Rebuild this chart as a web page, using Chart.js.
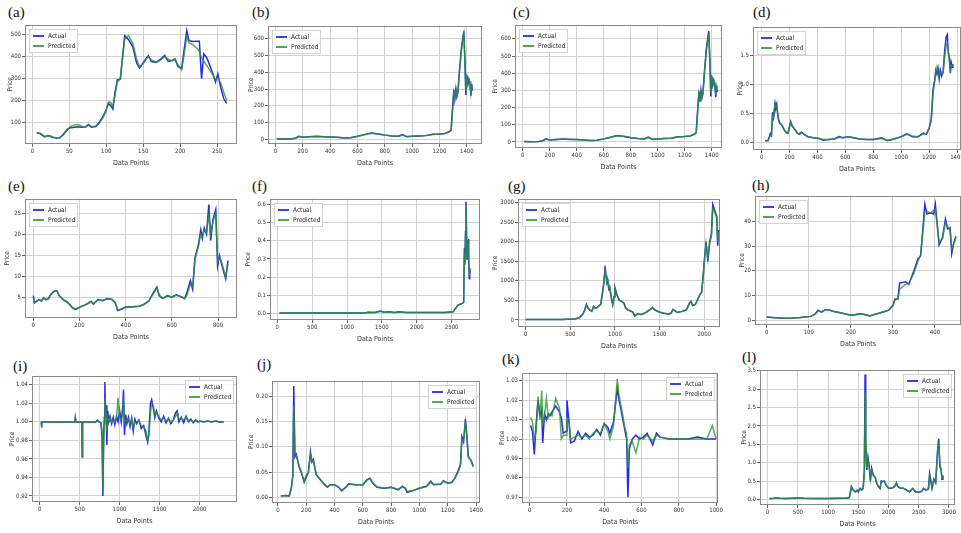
<!DOCTYPE html>
<html>
<head>
<meta charset="utf-8">
<script src="https://cdn.jsdelivr.net/npm/chart.js@4.4.1/dist/chart.umd.min.js"></script>
<style>
  body { margin: 0; background: #fff; width: 961px; height: 533px; overflow: hidden; position: relative; }
  canvas { position: absolute; }
  .lbl { position: absolute; font-family: 'Liberation Serif', serif; font-size: 15px; color: #111; line-height: 1; }
</style>
</head>
<body>
<script>
// ---- data (x = data point index, y = price) ----
const xA = [6, 10, 14, 17, 21, 25, 28, 33, 37, 42, 47, 52, 57, 62, 67, 72, 76, 80, 86, 90, 95, 100, 103, 106, 109, 112, 115, 119, 125, 130, 136, 141, 145, 150, 154, 157, 161, 168, 174, 179, 184, 189, 193, 197, 202, 205, 209, 212, 217, 222, 226, 229, 232, 236, 240, 244, 248, 251, 255, 259, 263];
const actualA = [55, 52, 42, 36, 42, 38, 33, 31, 32, 48, 70, 78, 80, 82, 80, 82, 92, 80, 84, 100, 125, 160, 187, 178, 162, 240, 295, 298, 495, 478, 444, 372, 348, 372, 392, 404, 378, 374, 390, 405, 378, 382, 390, 355, 346, 420, 518, 472, 468, 470, 470, 300, 412, 395, 362, 325, 285, 322, 260, 210, 188];
const predA = [52, 54, 45, 38, 40, 40, 35, 31, 32, 45, 68, 85, 90, 92, 85, 80, 88, 85, 82, 96, 120, 155, 195, 192, 175, 225, 285, 298, 480, 495, 460, 390, 355, 368, 388, 400, 385, 375, 385, 400, 388, 380, 388, 365, 340, 400, 490, 462, 455, 440, 425, 395, 380, 360, 340, 320, 295, 305, 280, 240, 200];

const xB = [10, 60, 120, 150, 170, 200, 250, 300, 350, 400, 450, 500, 550, 600, 650, 700, 750, 800, 850, 900, 930, 960, 1000, 1050, 1100, 1150, 1200, 1240, 1270, 1285, 1295, 1305, 1312, 1320, 1327, 1335, 1345, 1360, 1370, 1378, 1386, 1393, 1400, 1408, 1415, 1422, 1430, 1436, 1441];
const actualB = [3, 2, 3, 8, 18, 12, 15, 18, 15, 14, 12, 8, 10, 18, 28, 38, 32, 25, 20, 18, 28, 15, 18, 20, 22, 30, 32, 35, 45, 55, 180, 295, 240, 300, 255, 285, 400, 540, 600, 645, 470, 265, 385, 330, 360, 340, 260, 330, 290];
const predB = [3, 2, 3, 7, 16, 13, 15, 17, 16, 14, 12, 9, 10, 17, 27, 36, 33, 26, 21, 18, 26, 17, 18, 20, 22, 29, 32, 35, 44, 52, 160, 280, 250, 290, 262, 280, 390, 530, 590, 630, 480, 285, 370, 340, 355, 345, 275, 320, 295];

const xC = [10, 60, 120, 150, 170, 200, 250, 300, 350, 400, 450, 500, 550, 600, 650, 700, 750, 800, 850, 900, 930, 960, 1000, 1050, 1100, 1150, 1200, 1240, 1270, 1285, 1295, 1305, 1312, 1320, 1327, 1335, 1345, 1360, 1370, 1378, 1386, 1393, 1400, 1408, 1415, 1422, 1430, 1436, 1441];
const actualC = [3, 2, 3, 8, 18, 12, 15, 18, 15, 14, 12, 8, 10, 18, 28, 38, 32, 25, 20, 18, 28, 15, 18, 20, 22, 30, 32, 35, 45, 55, 180, 295, 235, 300, 255, 285, 400, 540, 600, 645, 470, 265, 385, 330, 360, 340, 260, 330, 290];
const predC = [3, 2, 3, 7, 16, 13, 15, 17, 16, 14, 12, 9, 10, 17, 27, 36, 33, 26, 21, 18, 26, 17, 18, 20, 22, 29, 32, 35, 44, 52, 160, 280, 250, 290, 262, 280, 390, 530, 590, 630, 480, 285, 370, 340, 355, 345, 275, 320, 295];

const xD = [25, 45, 55, 62, 70, 78, 84, 90, 96, 102, 108, 114, 120, 130, 145, 160, 175, 188, 200, 208, 216, 225, 240, 255, 270, 285, 300, 330, 370, 410, 440, 480, 520, 555, 580, 620, 660, 700, 750, 800, 860, 900, 950, 1000, 1040, 1080, 1120, 1160, 1180, 1200, 1215, 1228, 1238, 1248, 1256, 1264, 1272, 1280, 1290, 1300, 1312, 1322, 1330, 1337, 1345, 1352, 1358, 1365, 1370];
const actualD = [0.03, 0.03, 0.10, 0.15, 0.12, 0.52, 0.38, 0.55, 0.68, 0.60, 0.66, 0.50, 0.40, 0.33, 0.30, 0.22, 0.17, 0.16, 0.28, 0.36, 0.30, 0.26, 0.22, 0.16, 0.14, 0.18, 0.15, 0.10, 0.08, 0.07, 0.04, 0.05, 0.06, 0.10, 0.08, 0.10, 0.08, 0.06, 0.05, 0.05, 0.08, 0.03, 0.06, 0.10, 0.15, 0.10, 0.10, 0.16, 0.14, 0.25, 0.40, 0.92, 1.05, 1.25, 1.18, 1.28, 1.10, 1.25, 1.15, 1.22, 1.60, 1.82, 1.86, 1.55, 1.45, 1.20, 1.38, 1.30, 1.35];
const predD = [0.03, 0.03, 0.08, 0.14, 0.13, 0.45, 0.42, 0.52, 0.65, 0.62, 0.64, 0.52, 0.42, 0.34, 0.30, 0.23, 0.18, 0.16, 0.26, 0.34, 0.31, 0.27, 0.22, 0.17, 0.15, 0.17, 0.15, 0.10, 0.08, 0.07, 0.05, 0.05, 0.06, 0.09, 0.08, 0.10, 0.08, 0.06, 0.05, 0.05, 0.07, 0.04, 0.06, 0.10, 0.14, 0.11, 0.10, 0.15, 0.15, 0.24, 0.38, 0.85, 1.02, 1.20, 1.30, 1.22, 1.15, 1.20, 1.18, 1.20, 1.50, 1.68, 1.72, 1.60, 1.40, 1.25, 1.32, 1.32, 1.33];

const xE = [0, 5, 15, 25, 35, 45, 55, 65, 75, 85, 95, 102, 112, 130, 150, 170, 182, 200, 220, 240, 250, 260, 280, 300, 320, 340, 355, 365, 380, 400, 430, 460, 480, 500, 520, 535, 545, 560, 580, 600, 620, 640, 655, 665, 680, 690, 700, 715, 725, 732, 740, 750, 760, 768, 778, 790, 798, 806, 815, 825, 833, 843];
const actualE = [5.5, 3.8, 4.2, 4.6, 4.2, 5.0, 4.5, 4.8, 5.8, 6.3, 6.7, 6.6, 5.5, 4.5, 3.8, 2.6, 2.2, 2.8, 3.2, 3.8, 4.2, 3.5, 4.6, 4.3, 4.8, 4.6, 3.8, 2.0, 2.3, 2.8, 2.9, 3.0, 3.5, 4.3, 6.2, 7.5, 5.5, 4.8, 5.5, 5.2, 5.7, 5.2, 4.8, 6.2, 9.0, 7.0, 14.5, 17.5, 21.0, 19.0, 21.5, 20.0, 27.0, 18.5, 23.5, 25.8, 12.5, 15.0, 13.0, 11.0, 9.5, 13.8];
const predE = [5.2, 4.0, 4.1, 4.5, 4.3, 4.9, 4.6, 4.7, 5.6, 6.2, 6.6, 6.6, 5.6, 4.6, 3.9, 2.7, 2.3, 2.7, 3.2, 3.7, 4.1, 3.6, 4.5, 4.4, 4.7, 4.6, 3.9, 2.2, 2.3, 2.7, 2.9, 3.0, 3.4, 4.2, 6.0, 7.3, 5.7, 4.9, 5.4, 5.2, 5.6, 5.3, 4.9, 5.5, 8.2, 7.5, 14.0, 17.2, 20.0, 19.5, 21.0, 20.5, 24.5, 20.0, 23.0, 25.0, 13.5, 14.5, 13.5, 11.5, 10.0, 13.0];

const xF = [30, 300, 600, 900, 1250, 1300, 1400, 1480, 1530, 1600, 1680, 1750, 1850, 2000, 2200, 2400, 2520, 2560, 2590, 2620, 2650, 2672, 2682, 2690, 2698, 2705, 2712, 2720, 2727, 2734, 2740, 2746, 2752, 2758, 2765];
const actualF = [0.002, 0.002, 0.002, 0.002, 0.002, 0.006, 0.004, 0.012, 0.006, 0.008, 0.004, 0.008, 0.004, 0.004, 0.005, 0.005, 0.008, 0.03, 0.045, 0.05, 0.055, 0.06, 0.36, 0.27, 0.45, 0.615, 0.45, 0.30, 0.40, 0.32, 0.41, 0.30, 0.19, 0.25, 0.22];
const predF = [0.002, 0.002, 0.002, 0.002, 0.002, 0.005, 0.004, 0.011, 0.006, 0.007, 0.004, 0.007, 0.004, 0.004, 0.005, 0.005, 0.008, 0.028, 0.044, 0.05, 0.055, 0.06, 0.33, 0.28, 0.43, 0.60, 0.46, 0.31, 0.39, 0.33, 0.40, 0.31, 0.21, 0.24, 0.23];

const xG = [0, 200, 400, 550, 600, 640, 660, 680, 700, 720, 740, 760, 780, 800, 840, 860, 875, 890, 900, 910, 920, 930, 940, 960, 975, 990, 1000, 1020, 1050, 1080, 1100, 1120, 1150, 1200, 1220, 1250, 1300, 1350, 1400, 1420, 1450, 1500, 1550, 1600, 1630, 1650, 1680, 1700, 1750, 1800, 1830, 1850, 1870, 1900, 1930, 1950, 1970, 1990, 2000, 2020, 2040, 2060, 2080, 2095, 2110, 2140, 2150, 2160];
const actualG = [10, 15, 15, 25, 60, 150, 250, 400, 300, 250, 220, 350, 300, 320, 400, 700, 950, 1380, 1100, 950, 1000, 800, 850, 550, 390, 600, 820, 650, 500, 470, 430, 300, 250, 200, 100, 150, 140, 200, 280, 320, 250, 200, 170, 150, 180, 270, 220, 190, 220, 260, 420, 480, 370, 400, 550, 650, 700, 1200, 1500, 2000, 1500, 2000, 2200, 2950, 2850, 2650, 1900, 2300];
const predG = [10, 15, 15, 25, 58, 145, 245, 380, 310, 255, 225, 340, 305, 318, 395, 680, 930, 1300, 1150, 960, 990, 820, 840, 570, 400, 580, 800, 660, 510, 470, 435, 310, 255, 205, 110, 150, 142, 198, 275, 315, 255, 205, 172, 152, 178, 262, 225, 192, 218, 258, 400, 470, 380, 398, 540, 640, 700, 1150, 1450, 1950, 1550, 1950, 2150, 2850, 2800, 2600, 2000, 2250];

const xH = [0, 20, 40, 60, 80, 95, 105, 115, 122, 130, 140, 150, 160, 180, 200, 210, 220, 230, 245, 260, 280, 290, 300, 305, 312, 316, 330, 338, 350, 360, 366, 376, 381, 390, 397, 401, 410, 418, 425, 430, 436, 440, 445, 450];
const actualH = [1.2, 0.9, 0.7, 0.8, 1.0, 1.3, 1.5, 2.5, 4.0, 3.2, 4.3, 4.0, 3.5, 2.8, 2.0, 2.2, 2.6, 2.4, 1.7, 2.5, 3.5, 4.0, 6.0, 8.5, 8.5, 15.0, 15.5, 14.5, 20.0, 25.0, 26.0, 47.0, 43.0, 43.5, 43.0, 47.0, 30.5, 33.5, 41.0, 37.0, 37.5, 27.0, 31.5, 34.0];
const predH = [1.1, 0.9, 0.7, 0.8, 1.0, 1.3, 1.5, 2.4, 3.8, 3.3, 4.2, 4.0, 3.5, 2.8, 2.0, 2.2, 2.5, 2.4, 1.8, 2.4, 3.4, 4.0, 5.8, 8.0, 8.6, 12.5, 14.5, 15.0, 19.0, 24.0, 26.5, 44.0, 44.0, 43.5, 44.5, 45.0, 31.5, 33.0, 39.5, 38.0, 36.5, 29.0, 31.0, 33.5];

const xI = [20, 24, 28, 200, 440, 445, 450, 528, 532, 536, 700, 725, 740, 765, 780, 790, 800, 808, 815, 822, 830, 840, 850, 865, 880, 900, 920, 940, 960, 980, 1000, 1020, 1040, 1048, 1060, 1075, 1090, 1110, 1130, 1150, 1170, 1190, 1210, 1240, 1270, 1300, 1330, 1350, 1365, 1385, 1400, 1420, 1440, 1460, 1490, 1520, 1550, 1580, 1610, 1640, 1670, 1700, 1720, 1740, 1770, 1800, 1830, 1860, 1890, 1920, 1950, 1980, 2010, 2050, 2100, 2150, 2200, 2250, 2300];
const actualI = [1.0, 0.994, 1.0, 1.0, 1.0, 1.004, 1.0, 1.0, 0.962, 1.0, 1.0, 1.002, 1.0, 0.999, 0.985, 0.92, 0.985, 1.005, 1.043, 1.01, 1.018, 0.975, 1.012, 1.0, 1.006, 0.998, 1.005, 0.997, 1.006, 1.0, 1.012, 1.0, 1.018, 1.035, 0.986, 1.008, 0.998, 1.005, 0.995, 1.004, 0.99, 1.003, 0.998, 1.002, 0.993, 0.996, 0.985, 0.978, 0.988, 1.02, 1.024, 1.015, 1.005, 1.012, 1.004, 1.0, 1.006, 0.999, 1.004, 0.998, 1.002, 1.01, 1.012, 1.0, 1.005, 0.999, 1.006, 1.0, 1.003, 0.999, 1.002, 1.0, 1.001, 1.0, 1.001, 1.0, 1.001, 1.0, 1.0];
const predI = [1.0, 0.995, 1.0, 1.0, 1.0, 1.003, 1.0, 1.0, 0.963, 1.0, 1.0, 1.001, 1.0, 0.999, 0.99, 0.925, 0.975, 0.998, 1.025, 1.02, 1.01, 0.99, 1.005, 1.002, 1.004, 1.0, 1.002, 1.0, 1.003, 1.026, 1.005, 1.003, 1.01, 1.025, 1.0, 1.002, 1.0, 1.003, 0.998, 1.002, 0.994, 1.0, 1.0, 1.001, 0.996, 0.995, 0.99, 0.98, 0.985, 1.01, 1.02, 1.018, 1.008, 1.01, 1.006, 1.002, 1.004, 1.001, 1.003, 1.0, 1.002, 1.006, 1.01, 1.003, 1.004, 1.002, 1.005, 1.001, 1.002, 1.0, 1.002, 1.0, 1.001, 1.0, 1.001, 1.0, 1.001, 1.0, 1.0];

const xJ = [20, 50, 80, 95, 105, 112, 120, 130, 150, 170, 185, 200, 215, 230, 240, 250, 270, 300, 330, 350, 370, 400, 430, 450, 480, 500, 550, 600, 630, 650, 670, 700, 750, 800, 850, 880, 900, 912, 950, 1000, 1050, 1080, 1100, 1150, 1170, 1200, 1230, 1250, 1270, 1290, 1300, 1312, 1325, 1335, 1345, 1360, 1370, 1380];
const actualJ = [0.003, 0.004, 0.003, 0.02, 0.045, 0.22, 0.08, 0.085, 0.06, 0.045, 0.03, 0.04, 0.05, 0.09, 0.07, 0.075, 0.045, 0.035, 0.025, 0.02, 0.025, 0.025, 0.02, 0.013, 0.02, 0.027, 0.025, 0.025, 0.035, 0.038, 0.028, 0.02, 0.018, 0.02, 0.015, 0.022, 0.018, 0.01, 0.013, 0.018, 0.022, 0.032, 0.025, 0.026, 0.033, 0.028, 0.03, 0.038, 0.05, 0.065, 0.12, 0.11, 0.155, 0.12, 0.08, 0.075, 0.07, 0.062];
const predJ = [0.003, 0.004, 0.003, 0.018, 0.04, 0.18, 0.09, 0.082, 0.062, 0.047, 0.032, 0.045, 0.048, 0.085, 0.072, 0.073, 0.046, 0.035, 0.026, 0.021, 0.025, 0.025, 0.02, 0.014, 0.02, 0.026, 0.025, 0.025, 0.034, 0.037, 0.029, 0.021, 0.018, 0.02, 0.016, 0.021, 0.018, 0.012, 0.013, 0.018, 0.022, 0.03, 0.026, 0.026, 0.032, 0.028, 0.03, 0.037, 0.048, 0.063, 0.115, 0.112, 0.15, 0.125, 0.082, 0.075, 0.068, 0.06];

const xK = [5, 15, 25, 35, 45, 55, 65, 70, 80, 90, 100, 110, 120, 140, 160, 170, 180, 195, 200, 210, 220, 240, 260, 280, 300, 320, 340, 360, 380, 400, 420, 430, 450, 470, 480, 500, 510, 520, 527, 535, 550, 570, 590, 610, 630, 650, 660, 680, 700, 750, 800, 850, 900, 950, 980, 1000];
const actualK = [1.007, 1.004, 0.992, 1.008, 1.02, 1.012, 1.015, 0.998, 1.013, 1.01, 1.013, 1.012, 1.014, 1.017, 1.014, 1.011, 1.003, 1.004, 1.02, 1.01, 0.998, 0.999, 1.004, 1.0, 1.003, 1.001, 1.002, 1.005, 1.002, 1.008, 1.006, 1.003, 1.009, 1.026, 1.02, 1.01, 1.005, 1.0, 0.97, 0.995, 1.0, 1.002, 1.0, 1.001, 1.003, 0.999, 0.997, 1.003, 1.001, 1.0, 1.0, 1.0, 1.001, 1.0, 1.0, 1.0];
const predK = [1.011, 1.009, 1.0, 1.004, 1.022, 1.01, 1.025, 1.008, 1.012, 1.021, 1.011, 1.013, 1.012, 1.021, 1.016, 1.0, 1.002, 1.002, 1.011, 1.011, 1.0, 1.001, 1.002, 1.001, 1.002, 1.0, 1.003, 1.004, 1.003, 1.008, 1.004, 1.0, 1.007, 1.031, 1.022, 1.012, 1.006, 1.003, 0.985, 0.997, 0.999, 0.993, 1.001, 1.0, 1.002, 1.0, 0.999, 1.002, 1.001, 1.0, 1.0, 1.0, 1.0, 1.0, 1.007, 1.0];

const xL = [30, 100, 150, 200, 300, 400, 500, 600, 800, 1000, 1200, 1300, 1350, 1370, 1385, 1400, 1420, 1450, 1480, 1500, 1530, 1555, 1580, 1600, 1612, 1622, 1640, 1660, 1680, 1700, 1720, 1750, 1780, 1800, 1830, 1860, 1880, 1900, 1930, 1960, 2000, 2050, 2100, 2130, 2150, 2200, 2250, 2300, 2350, 2400, 2450, 2500, 2550, 2580, 2620, 2660, 2680, 2700, 2720, 2750, 2780, 2810, 2830, 2850, 2870, 2885, 2900];
const actualL = [0.02, 0.03, 0.04, 0.03, 0.02, 0.03, 0.04, 0.03, 0.02, 0.02, 0.03, 0.03, 0.05, 0.2, 0.35, 0.3, 0.25, 0.2, 0.25, 0.2, 0.3, 0.25, 0.3, 0.8, 3.4, 1.5, 0.8, 1.15, 0.9, 0.5, 0.85, 0.65, 0.6, 0.45, 0.35, 0.3, 0.5, 0.48, 0.5, 0.38, 0.3, 0.3, 0.35, 0.45, 0.35, 0.3, 0.3, 0.25, 0.2, 0.3, 0.2, 0.2, 0.22, 0.3, 0.25, 0.28, 0.7, 0.5, 0.3, 0.55, 0.45, 1.3, 1.65, 0.9, 0.8, 0.55, 0.65];
const predL = [0.02, 0.03, 0.04, 0.03, 0.02, 0.03, 0.04, 0.03, 0.02, 0.02, 0.03, 0.03, 0.05, 0.18, 0.33, 0.3, 0.25, 0.21, 0.24, 0.21, 0.28, 0.26, 0.3, 0.7, 2.9, 1.7, 0.85, 1.1, 0.92, 0.55, 0.8, 0.66, 0.6, 0.47, 0.36, 0.3, 0.48, 0.48, 0.5, 0.39, 0.31, 0.3, 0.34, 0.44, 0.36, 0.3, 0.3, 0.26, 0.21, 0.29, 0.21, 0.2, 0.22, 0.29, 0.26, 0.28, 0.65, 0.52, 0.32, 0.52, 0.46, 1.2, 1.55, 0.95, 0.8, 0.58, 0.64];

// tick labels
const ticks200 = [0, 200, 400, 600, 800, 1000, 1200, 1400];
const ticks500 = [0, 500, 1000, 1500, 2000, 2500];
const xTicksA = [0, 50, 100, 150, 200, 250];
const yTicksA = [100, 200, 300, 400, 500];
const yTicksB = [0, 100, 200, 300, 400, 500, 600];
const yTicksD = [0, 0.5, 1.0, 1.5];
const xTicksE = [0, 200, 400, 600, 800];
const yTicksE = [5, 10, 15, 20, 25];
const yTicksF = [0, 0.1, 0.2, 0.3, 0.4, 0.5, 0.6];
const xTicksG = [0, 500, 1000, 1500, 2000];
const yTicksG = [0, 500, 1000, 1500, 2000, 2500, 3000];
const xTicksH = [0, 100, 200, 300, 400];
const yTicksH = [0, 10, 20, 30, 40];
const yTicksI = [0.92, 0.94, 0.96, 0.98, 1.00, 1.02, 1.04];
const yTicksJ = [0, 0.05, 0.10, 0.15, 0.20];
const xTicksK = [0, 200, 400, 600, 800, 1000];
const yTicksK = [0.97, 0.98, 0.99, 1.00, 1.01, 1.02, 1.03];
const xTicksL = [0, 500, 1000, 1500, 2000, 2500, 3000];
const yTicksL = [0, 0.5, 1.0, 1.5, 2.0, 2.5, 3.0, 3.5];

const BLUE = 'rgb(40,40,240)';
const GREEN = 'rgba(45,150,45,0.8)';
const FONT = "'DejaVu Sans Condensed', 'Liberation Sans Narrow', 'DejaVu Sans', sans-serif";

// panel placement: plot box in page pixels, axis ranges, y axis width, label spot
const panels = [
  { name: '(a)', x: xA, a: actualA, p: predA, xt: xTicksA, yt: yTicksA, L: 25, T: 24, R: 237, B: 144, x0: -10, x1: 277, y0: 4, y1: 545, yw: 19, dec: 0, leg: 'left', lx: 8, ly: 5 },
  { name: '(b)', x: xB, a: actualB, p: predB, xt: ticks200, yt: yTicksB, L: 268, T: 25, R: 482, B: 144, x0: -54, x1: 1511, y0: -28, y1: 679, yw: 21, dec: 0, leg: 'left', lx: 252, ly: 5 },
  { name: '(c)', x: xC, a: actualC, p: predC, xt: ticks200, yt: yTicksB, L: 515, T: 24, R: 722, B: 148, x0: -57, x1: 1476, y0: -35, y1: 683, yw: 24, dec: 0, leg: 'left', lx: 513, ly: 5 },
  { name: '(d)', x: xD, a: actualD, p: predD, xt: ticks200, yt: yTicksD, L: 753, T: 26, R: 961, B: 150, x0: -62, x1: 1428, y0: -0.13, y1: 2.0, yw: 17, dec: 1, leg: 'left', lx: 753, ly: 5 },
  { name: '(e)', x: xE, a: actualE, p: predE, xt: xTicksE, yt: yTicksE, L: 25, T: 198, R: 237, B: 318, x0: -36, x1: 882, y0: 0.23, y1: 28.4, yw: 22, dec: 0, leg: 'left', lx: 8, ly: 179 },
  { name: '(f)', x: xF, a: actualF, p: predF, xt: ticks500, yt: yTicksF, L: 270, T: 198, R: 480, B: 320, x0: -105, x1: 2906, y0: -0.037, y1: 0.633, yw: 26, dec: 1, leg: 'left', lx: 252, ly: 179 },
  { name: '(g)', x: xG, a: actualG, p: predG, xt: xTicksG, yt: yTicksG, L: 518, T: 198, R: 720, B: 327, x0: -86, x1: 2176, y0: -179, y1: 3102, yw: 27, dec: 0, leg: 'left', lx: 508, ly: 179 },
  { name: '(h)', x: xH, a: actualH, p: predH, xt: xTicksH, yt: yTicksH, L: 755, T: 195, R: 961, B: 325, x0: -28, x1: 462, y0: -2, y1: 50.5, yw: 17, dec: 0, leg: 'left', lx: 752, ly: 178 },
  { name: '(i)', x: xI, a: actualI, p: predI, xt: xTicksG, yt: yTicksI, L: 32, T: 375, R: 237, B: 502, x0: -96, x1: 2467, y0: 0.9135, y1: 1.050, yw: 24, dec: 2, leg: 'right', lx: 13, ly: 359 },
  { name: '(j)', x: xJ, a: actualJ, p: predJ, xt: ticks200, yt: yTicksJ, L: 272, T: 380, R: 480, B: 503, x0: -42, x1: 1428, y0: -0.011, y1: 0.2307, yw: 25, dec: 2, leg: 'right', lx: 257, ly: 357 },
  { name: '(k)', x: xK, a: actualK, p: predK, xt: xTicksK, yt: yTicksK, L: 522, T: 372, R: 720, B: 503, x0: -41, x1: 1012, y0: 0.967, y1: 1.0343, yw: 24, dec: 2, leg: 'right', lx: 502, ly: 352 },
  { name: '(l)', x: xL, a: actualL, p: predL, xt: xTicksL, yt: yTicksL, L: 760, T: 369, R: 955, B: 505, x0: -127, x1: 3100, y0: -0.154, y1: 3.536, yw: 20, dec: 1, leg: 'right', lx: 742, ly: 350 }
];

// frame around the plot area and a small matplotlib-like legend box
const frameAndLegend = {
  id: 'frameAndLegend',
  afterDraw(chart, args, opts) {
    const { ctx, chartArea: ca } = chart;
    ctx.save();
    ctx.strokeStyle = '#8a8a8a';
    ctx.lineWidth = 1;
    ctx.strokeRect(Math.round(ca.left) + 0.5, Math.round(ca.top) + 0.5, Math.round(ca.right - ca.left) - 1, Math.round(ca.bottom - ca.top) - 1);

    const w = 48, h = 23;
    const x = opts.side === 'right' ? Math.round(ca.right) - w - 4 : Math.round(ca.left) + 4;
    const y = Math.round(ca.top) + 4;
    ctx.fillStyle = 'rgba(255,255,255,0.9)';
    ctx.fillRect(x, y, w, h);
    ctx.strokeStyle = '#d4d4d4';
    ctx.strokeRect(x + 0.5, y + 0.5, w, h);
    [['Actual', BLUE], ['Predicted', 'rgb(60,160,60)']].forEach(([t, c], i) => {
      const yy = y + 7 + i * 10;
      ctx.strokeStyle = c;
      ctx.lineWidth = 1.8;
      ctx.beginPath();
      ctx.moveTo(x + 4, yy);
      ctx.lineTo(x + 15, yy);
      ctx.stroke();
      ctx.fillStyle = '#222';
      ctx.font = '6.5px ' + FONT;
      ctx.textBaseline = 'middle';
      ctx.fillText(t, x + 19, yy);
    });
    ctx.restore();
  }
};

const PAD = 4, XH = 23;

panels.forEach(pn => {
  const lbl = document.createElement('div');
  lbl.className = 'lbl';
  lbl.textContent = pn.name;
  lbl.style.left = pn.lx + 'px';
  lbl.style.top = pn.ly + 'px';
  document.body.appendChild(lbl);

  const cv = document.createElement('canvas');
  const w = pn.R - pn.L + pn.yw + PAD;
  const h = pn.B - pn.T + PAD + XH;
  cv.width = w; cv.height = h;
  cv.style.left = (pn.L - pn.yw) + 'px';
  cv.style.top = (pn.T - PAD) + 'px';
  cv.style.width = w + 'px'; cv.style.height = h + 'px';
  document.body.appendChild(cv);

  const tickFont = { family: FONT, size: 6 };
  new Chart(cv.getContext('2d'), {
    type: 'line',
    data: {
      datasets: [
        { label: 'Actual', data: pn.x.map((v, i) => ({ x: v, y: pn.a[i] })), borderColor: BLUE, borderWidth: 1.5, order: 1 },
        { label: 'Predicted', data: pn.x.map((v, i) => ({ x: v, y: pn.p[i] })), borderColor: GREEN, borderWidth: 1.5, order: 0 }
      ]
    },
    options: {
      responsive: false,
      animation: false,
      devicePixelRatio: 1,
      parsing: false,
      elements: { point: { radius: 0 }, line: { tension: 0 } },
      layout: { padding: { top: PAD, right: PAD, left: 0, bottom: 0 } },
      plugins: {
        legend: { display: false },
        tooltip: { enabled: false },
        frameAndLegend: { side: pn.leg }
      },
      scales: {
        x: {
          type: 'linear', min: pn.x0, max: pn.x1,
          afterBuildTicks: s => { s.ticks = pn.xt.map(v => ({ value: v })); },
          afterFit: s => { s.height = XH; },
          ticks: { font: tickFont, color: '#333', padding: 1, maxRotation: 0, autoSkip: false, callback: v => String(v) },
          grid: { color: '#d2d2d2', tickLength: 3, tickColor: '#666' },
          border: { display: false },
          title: { display: true, text: 'Data Points', font: { family: FONT, size: 7 }, color: '#333', padding: 0 }
        },
        y: {
          type: 'linear', min: pn.y0, max: pn.y1,
          afterBuildTicks: s => { s.ticks = pn.yt.map(v => ({ value: v })); },
          afterFit: s => { s.width = pn.yw; },
          ticks: { font: tickFont, color: '#333', padding: 1, autoSkip: false, callback: v => Number(v).toFixed(pn.dec) },
          grid: { color: '#d2d2d2', tickLength: 3, tickColor: '#666' },
          border: { display: false },
          title: { display: true, text: 'Price', font: { family: FONT, size: 6.5 }, color: '#333', padding: 0 }
        }
      }
    },
    plugins: [frameAndLegend]
  });
});
</script>
</body>
</html>
